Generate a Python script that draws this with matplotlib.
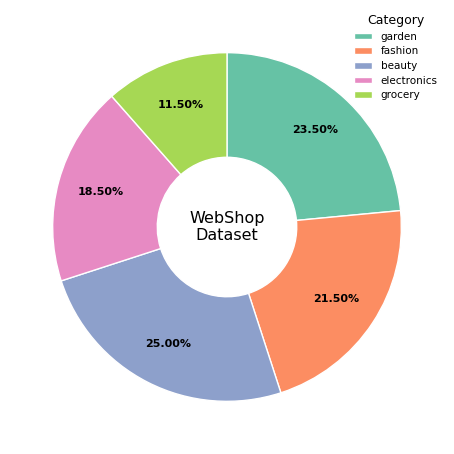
import matplotlib
matplotlib.use("Agg")
import matplotlib.pyplot as plt

categories = ["garden", "fashion", "beauty", "electronics", "grocery"]
shares = [23.5, 21.5, 25.0, 18.5, 11.5]
colors = ["#66c2a5", "#fc8d62", "#8da0cb", "#e78ac3", "#a6d854"]

fig = plt.figure(figsize=(4.54, 4.54), dpi=100)
ax = fig.add_axes([0.02, 0.02, 0.96, 0.96])

wedges, texts, autotexts = ax.pie(
    shares, colors=colors, startangle=90, counterclock=False,
    autopct="%.2f%%", pctdistance=0.75,
    wedgeprops=dict(width=0.6, edgecolor="white", linewidth=1),
    textprops=dict(fontsize=8, fontweight="bold", color="black"))

ax.text(0, 0, "WebShop\nDataset", ha="center", va="center", fontsize=11.5)
ax.set_aspect("equal")

fig.legend(wedges, categories, title="Category", loc="upper right",
           bbox_to_anchor=(0.985, 0.99), frameon=False, fontsize=7.5,
           title_fontsize=9, handlelength=1.8, handleheight=0.6,
           handletextpad=0.8, labelspacing=0.45)

fig.savefig("out.png", dpi=100)
